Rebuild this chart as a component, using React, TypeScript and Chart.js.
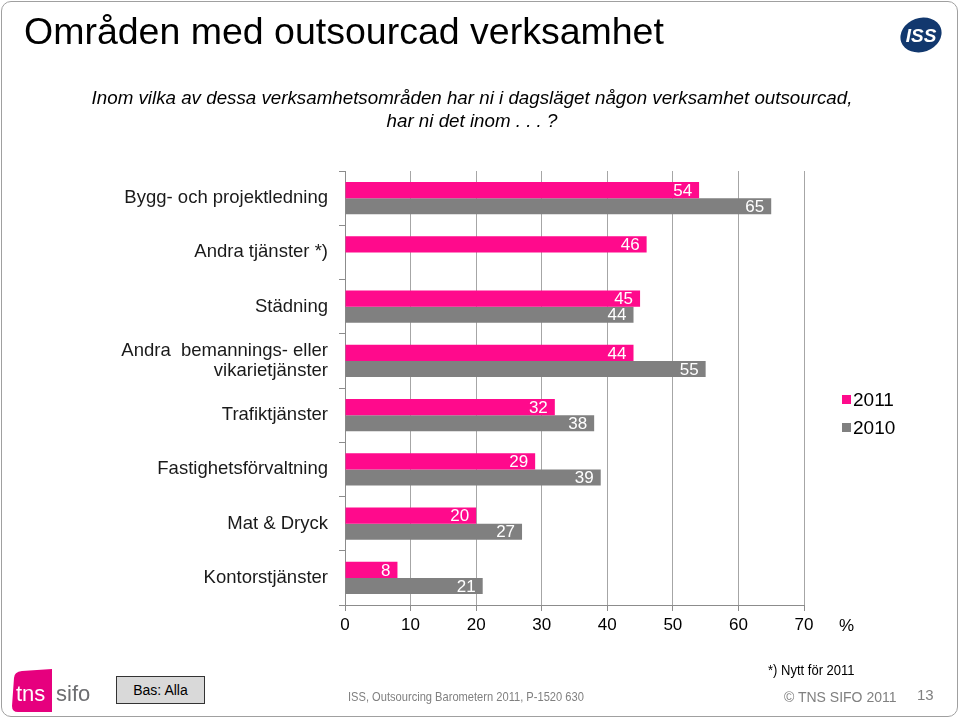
import React, { useEffect, useRef } from "react";
import { Chart, registerables } from "chart.js";

Chart.register(...registerables);

const categories: (string | string[])[] = [
  "Bygg- och projektledning",
  "Andra tjänster *)",
  "Städning",
  ["Andra  bemannings- eller", "vikarietjänster"],
  "Trafiktjänster",
  "Fastighetsförvaltning",
  "Mat & Dryck",
  "Kontorstjänster",
];
const values2011: (number | null)[] = [54, 46, 45, 44, 32, 29, 20, 8];
const values2010: (number | null)[] = [65, null, 44, 55, 38, 39, 27, 21];
const seriesNames = ["2011", "2010"];
const seriesColors = ["#FF0A8C", "#808080"];
const axisMin = 0;
const axisMax = 70;
const axisStep = 10;

const FONT = "'Liberation Sans', Arial, Helvetica, sans-serif";

const valueLabels = {
  id: "valueLabels",
  afterDatasetsDraw(chart: any) {
    const ctx = chart.ctx;
    ctx.save();
    ctx.font = `17px ${FONT}`;
    ctx.fillStyle = "#ffffff";
    ctx.textAlign = "right";
    ctx.textBaseline = "middle";
    chart.data.datasets.forEach((ds: any, i: number) => {
      const meta = chart.getDatasetMeta(i);
      meta.data.forEach((el: any, j: number) => {
        const v = ds.data[j];
        if (v == null) return;
        ctx.fillText(String(v), el.x - 7, el.y + 1);
      });
    });
    ctx.restore();
  },
};

function ChartCanvas() {
  const ref = useRef<HTMLCanvasElement | null>(null);
  useEffect(() => {
    if (!ref.current) return;
    const chart = new Chart(ref.current, {
      type: "bar",
      data: {
        labels: categories,
        datasets: [
          {
            label: seriesNames[0],
            data: values2011,
            backgroundColor: seriesColors[0],
            borderWidth: 0,
            categoryPercentage: 0.59,
            barPercentage: 1,
          },
          {
            label: seriesNames[1],
            data: values2010,
            backgroundColor: seriesColors[1],
            borderWidth: 0,
            categoryPercentage: 0.59,
            barPercentage: 1,
          },
        ],
      },
      options: {
        indexAxis: "y",
        responsive: false,
        animation: false,
        layout: { padding: { left: 0, top: 171, right: 156, bottom: 84 } },
        plugins: {
          legend: { display: false },
          tooltip: { enabled: false },
        },
        scales: {
          x: {
            min: axisMin,
            max: axisMax,
            ticks: {
              stepSize: axisStep,
              color: "#000000",
              font: { family: FONT, size: 17 },
              padding: 4,
            },
            grid: {
              color: "#a6a6a6",
              lineWidth: 1,
              drawTicks: true,
              tickLength: 6,
              tickColor: "#8c8c8c",
            },
            border: { color: "#8c8c8c", width: 1 },
            afterFit: (scale: any) => {
              scale.height = 30;
            },
          },
          y: {
            ticks: {
              color: "#1a1a1a",
              font: { family: FONT, size: 18.5, lineHeight: 1.08 },
              padding: 11,
            },
            grid: {
              drawOnChartArea: false,
              drawTicks: true,
              tickLength: 6,
              tickColor: "#8c8c8c",
            },
            border: { color: "#8c8c8c", width: 1 },
            afterFit: (scale: any) => {
              scale.width = 345;
            },
          },
        },
      },
      plugins: [valueLabels],
    });
    return () => chart.destroy();
  }, []);
  return (
    <canvas
      ref={ref}
      width={960}
      height={719}
      style={{ position: "absolute", left: 0, top: 0, width: 960, height: 719 }}
    />
  );
}

export default function App() {
  const text: React.CSSProperties = { position: "absolute", fontFamily: FONT, whiteSpace: "nowrap" };
  return (
    <div
      style={{
        position: "fixed",
        left: 0,
        top: 0,
        width: 960,
        height: 719,
        background: "#ffffff",
        overflow: "hidden",
      }}
    >
      <ChartCanvas />
      <div
        style={{
          position: "absolute",
          left: 1,
          top: 1,
          width: 955,
          height: 714,
          border: "1.5px solid #a0a0a0",
          borderRadius: 10,
          pointerEvents: "none",
        }}
      />
      <div style={{ ...text, left: 24, top: 10, fontSize: 37.5, color: "#000" }}>
        Områden med outsourcad verksamhet
      </div>
      <svg style={{ position: "absolute", left: 896, top: 14 }} width={50} height={42}>
        <ellipse cx={25} cy={21} rx={21} ry={17} fill="#12386e" transform="rotate(-20 25 21)" />
        <text
          x={25}
          y={28}
          textAnchor="middle"
          fill="#ffffff"
          fontFamily={FONT}
          fontWeight="bold"
          fontStyle="italic"
          fontSize={19}
        >
          ISS
        </text>
      </svg>
      <div
        style={{
          ...text,
          left: 0,
          width: 944,
          top: 86,
          textAlign: "center",
          fontStyle: "italic",
          fontSize: 18.75,
          lineHeight: "23px",
          color: "#000",
        }}
      >
        Inom vilka av dessa verksamhetsområden har ni i dagsläget någon verksamhet outsourcad,
        <br />
        har ni det inom . . . ?
      </div>
      <div style={{ position: "absolute", left: 842, top: 395, width: 9, height: 9, background: seriesColors[0] }} />
      <div style={{ ...text, left: 853, top: 389, fontSize: 19, color: "#000" }}>{seriesNames[0]}</div>
      <div style={{ position: "absolute", left: 842, top: 423, width: 9, height: 9, background: seriesColors[1] }} />
      <div style={{ ...text, left: 853, top: 417, fontSize: 19, color: "#000" }}>{seriesNames[1]}</div>
      <div style={{ ...text, left: 839, top: 616, fontSize: 17, color: "#000" }}>%</div>

      <svg style={{ position: "absolute", left: 8, top: 668 }} width={90} height={46}>
        <path d="M6 10 Q6 4 14 3 L44 1 L44 44 L10 44 Q4 44 4 38 Z" fill="#e6007e" />
        <text x={8} y={33} fill="#ffffff" fontFamily={FONT} fontSize={22}>tns</text>
        <text x={48} y={33} fill="#6d6e71" fontFamily={FONT} fontSize={22}>sifo</text>
      </svg>
      <div
        style={{
          ...text,
          left: 116,
          top: 676,
          width: 87,
          height: 26,
          background: "#d9d9d9",
          border: "1px solid #333",
          fontSize: 14,
          lineHeight: "26px",
          textAlign: "center",
          color: "#000",
        }}
      >
        Bas: Alla
      </div>
      <div
        style={{
          ...text,
          left: 768,
          top: 662,
          fontSize: 14,
          color: "#000",
          transform: "scaleX(0.93)",
          transformOrigin: "left center",
        }}
      >
        *) Nytt för 2011
      </div>
      <div
        style={{
          ...text,
          left: 348,
          top: 689,
          fontSize: 13,
          color: "#808080",
          transform: "scaleX(0.855)",
          transformOrigin: "left center",
        }}
      >
        ISS, Outsourcing Barometern 2011, P-1520 630
      </div>
      <div style={{ ...text, left: 784, top: 689, fontSize: 14, color: "#808080" }}>© TNS SIFO 2011</div>
      <div style={{ ...text, left: 917, top: 686, fontSize: 15, color: "#808080" }}>13</div>
    </div>
  );
}
